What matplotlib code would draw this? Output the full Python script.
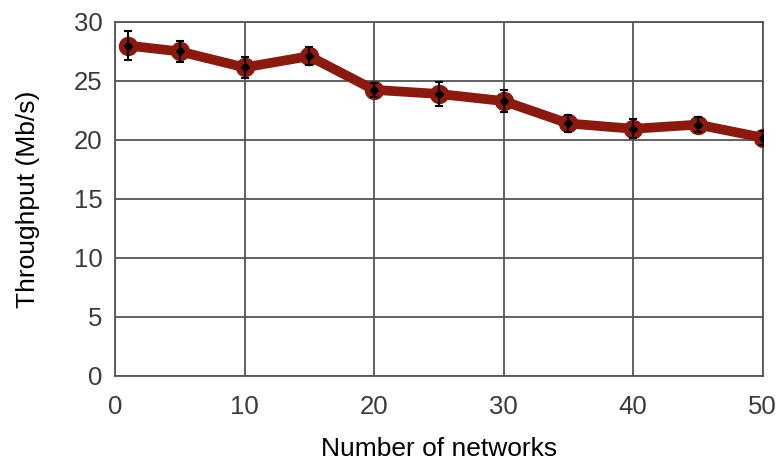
import matplotlib
matplotlib.use("Agg")
import matplotlib.pyplot as plt

# Throughput measurements versus number of networks
networks = [1, 5, 10, 15, 20, 25, 30, 35, 40, 45, 50]
throughput = [28.0, 27.5, 26.15, 27.1, 24.25, 23.9, 23.3, 21.4, 20.95, 21.3, 20.2]
error = [1.2, 0.85, 0.9, 0.75, 0.6, 1.0, 0.95, 0.75, 0.8, 0.65, 0.6]

x_ticks = [0, 10, 20, 30, 40, 50]
y_ticks = [0, 5, 10, 15, 20, 25, 30]

plt.rcParams['font.family'] = ['Liberation Sans', 'DejaVu Sans']

fig = plt.figure(figsize=(7.84, 4.63), dpi=100)
ax = fig.add_axes([0.1467, 0.188, 0.826, 0.7645])

line_color = '#8a1a10'
ax.plot(networks, throughput, color=line_color, linewidth=7, solid_joinstyle='round',
        marker='o', markersize=13, markerfacecolor=line_color, markeredgecolor=line_color,
        zorder=3)
ax.errorbar(networks, throughput, yerr=error, fmt='D', color='black', markersize=4,
            ecolor='black', elinewidth=1.5, capsize=3, capthick=1.5, zorder=4)

ax.set_xlim(0, 50)
ax.set_ylim(0, 30)
ax.set_xticks(x_ticks)
ax.set_yticks(y_ticks)
ax.grid(True, color='#555555', linewidth=1.3)
ax.set_axisbelow(True)
for s in ax.spines.values():
    s.set_color('#555555')
    s.set_linewidth(1.3)

ax.tick_params(axis='both', length=0, labelsize=18.5, labelcolor='#3a3a3a')
ax.tick_params(axis='x', pad=14)
ax.tick_params(axis='y', pad=9)

ax.set_xlabel('Number of networks', fontsize=19, color='black', labelpad=13)
ax.set_ylabel('Throughput (Mb/s)', fontsize=19, color='black', labelpad=24)

fig.savefig('out.png', dpi=100)
